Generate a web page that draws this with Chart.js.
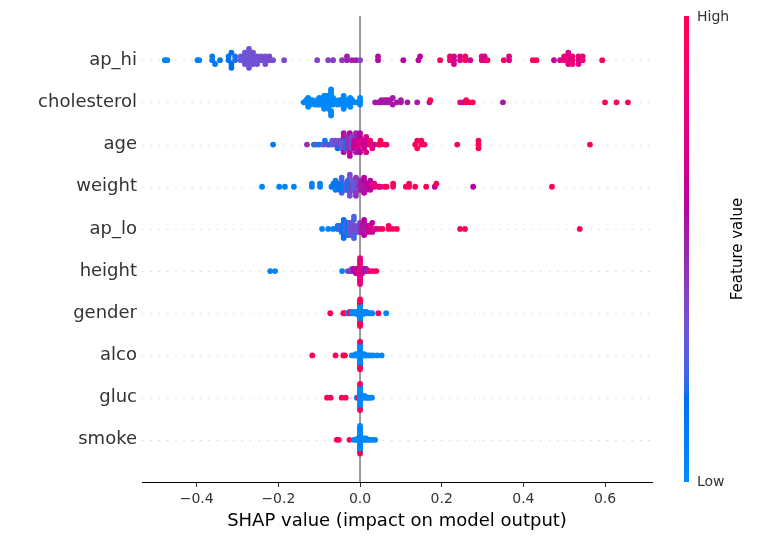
<!DOCTYPE html>
<html>
<head>
<meta charset="utf-8">
<script src="https://cdn.jsdelivr.net/npm/chart.js@4.4.1/dist/chart.umd.min.js"></script>
<style>
  html, body { margin: 0; padding: 0; background: #ffffff; }
  #wrap { position: relative; width: 758px; height: 540px; }
</style>
</head>
<body>
<div id="wrap"><canvas id="c" width="758" height="540"></canvas></div>
<script>
// ---------------- DATA ----------------
// Feature names, top to bottom
const features = ['ap_hi', 'cholesterol', 'age', 'weight', 'ap_lo', 'height', 'gender', 'alco', 'gluc', 'smoke'];
// x-axis tick values
const xTicks = [-0.4, -0.2, 0.0, 0.2, 0.4, 0.6];
// Colorbar tick labels
const colorbarLabels = ['Low', 'High'];
const xTitle = 'SHAP value (impact on model output)';
const colorbarTitle = 'Feature value';

// Each entry: [SHAP value, normalised feature value (0 = low, 1 = high), number of dots]
const apHi = [
  [-0.478, 0.05, 1], [-0.472, 0.05, 1], [-0.398, 0.08, 1], [-0.394, 0.08, 1],
  [-0.362, 0.10, 2], [-0.355, 0.12, 1], [-0.343, 0.12, 1],
  [-0.322, 0.15, 2], [-0.315, 0.18, 3], [-0.306, 0.20, 2],
  [-0.292, 0.30, 2], [-0.282, 0.33, 4], [-0.272, 0.32, 6], [-0.262, 0.35, 4],
  [-0.252, 0.33, 3], [-0.242, 0.36, 2], [-0.232, 0.35, 3], [-0.222, 0.37, 2], [-0.213, 0.36, 1],
  [-0.186, 0.38, 1], [-0.105, 0.40, 1], [-0.078, 0.40, 1], [-0.066, 0.42, 1],
  [-0.044, 0.45, 1], [-0.032, 0.52, 2], [-0.020, 0.50, 1], [-0.010, 0.55, 1], [0.000, 0.40, 1],
  [0.044, 0.58, 2], [0.106, 0.60, 1], [0.143, 0.60, 1], [0.147, 0.62, 1],
  [0.196, 0.95, 1], [0.220, 0.85, 2], [0.230, 0.70, 3], [0.245, 0.75, 2], [0.258, 0.92, 2], [0.270, 0.70, 1],
  [0.298, 0.85, 2], [0.305, 0.70, 2], [0.312, 0.95, 1],
  [0.352, 0.95, 1], [0.365, 0.75, 2], [0.423, 0.95, 1], [0.432, 0.95, 1],
  [0.475, 0.65, 1], [0.490, 0.70, 1], [0.500, 0.88, 2], [0.510, 0.75, 4], [0.520, 0.85, 3],
  [0.535, 0.75, 3], [0.545, 0.82, 2], [0.593, 0.96, 1]
];
const cholesterol = [
  [-0.138, 0.02, 1], [-0.132, 0.02, 2], [-0.127, 0.02, 3], [-0.122, 0.02, 3], [-0.117, 0.02, 2],
  [-0.111, 0.02, 1], [-0.105, 0.02, 3], [-0.100, 0.02, 4], [-0.094, 0.02, 3], [-0.088, 0.02, 4],
  [-0.083, 0.02, 6], [-0.077, 0.02, 7], [-0.071, 0.02, 6], [-0.066, 0.02, 4], [-0.061, 0.02, 2],
  [-0.055, 0.02, 1], [-0.050, 0.02, 2], [-0.045, 0.02, 3], [-0.040, 0.02, 4], [-0.034, 0.02, 3],
  [-0.029, 0.02, 2], [-0.024, 0.02, 3], [-0.019, 0.02, 2], [-0.010, 0.02, 1], [0.000, 0.02, 4],
  [0.037, 0.55, 1], [0.045, 0.55, 1], [0.052, 0.55, 2], [0.060, 0.55, 2], [0.066, 0.55, 2],
  [0.073, 0.55, 2], [0.080, 0.55, 2], [0.090, 0.55, 1], [0.100, 0.55, 2], [0.116, 0.55, 1],
  [0.140, 0.55, 1], [0.170, 0.55, 1], [0.172, 0.97, 1], [0.245, 0.97, 1], [0.252, 0.55, 1],
  [0.260, 0.97, 2], [0.268, 0.97, 1], [0.276, 0.97, 1], [0.350, 0.55, 1],
  [0.600, 0.97, 1], [0.628, 0.97, 1], [0.656, 0.97, 1]
];
const age = [
  [-0.213, 0.10, 1], [-0.130, 0.45, 1], [-0.113, 0.10, 1], [-0.108, 0.30, 1], [-0.100, 0.10, 1],
  [-0.090, 0.35, 1], [-0.086, 0.10, 1], [-0.080, 0.40, 1], [-0.075, 0.20, 1], [-0.068, 0.30, 2],
  [-0.060, 0.35, 2], [-0.055, 0.15, 1], [-0.050, 0.40, 2], [-0.045, 0.30, 3], [-0.040, 0.55, 3],
  [-0.035, 0.20, 3], [-0.030, 0.45, 4], [-0.025, 0.62, 3], [-0.020, 0.35, 4], [-0.015, 0.65, 3],
  [-0.010, 0.50, 3], [-0.005, 0.70, 3], [0.000, 0.60, 3], [0.005, 0.80, 2], [0.010, 0.65, 3],
  [0.015, 0.75, 2], [0.020, 0.70, 2], [0.025, 0.85, 2], [0.030, 0.75, 1], [0.035, 0.65, 1],
  [0.045, 0.90, 1], [0.050, 0.95, 2], [0.060, 0.95, 1], [0.065, 0.85, 1],
  [0.135, 0.95, 1], [0.140, 0.95, 2], [0.150, 0.95, 2], [0.158, 0.92, 1],
  [0.238, 0.95, 1], [0.290, 0.95, 3], [0.563, 0.97, 1]
];
const weight = [
  [-0.240, 0.02, 1], [-0.198, 0.05, 1], [-0.184, 0.05, 1], [-0.162, 0.05, 1], [-0.118, 0.05, 2],
  [-0.098, 0.05, 2], [-0.070, 0.10, 1], [-0.065, 0.15, 2], [-0.060, 0.08, 2], [-0.055, 0.20, 2],
  [-0.050, 0.12, 3], [-0.045, 0.25, 3], [-0.040, 0.10, 3], [-0.035, 0.30, 3], [-0.030, 0.20, 4],
  [-0.025, 0.35, 4], [-0.020, 0.40, 3], [-0.015, 0.30, 4], [-0.010, 0.45, 3], [-0.005, 0.40, 2],
  [0.000, 0.50, 4], [0.005, 0.55, 3], [0.010, 0.60, 3], [0.015, 0.55, 3], [0.020, 0.65, 2],
  [0.025, 0.60, 2], [0.030, 0.70, 1], [0.035, 0.80, 2], [0.045, 0.90, 1], [0.050, 0.75, 1],
  [0.060, 0.85, 1], [0.065, 0.95, 1], [0.081, 0.95, 2], [0.112, 0.95, 1], [0.120, 0.95, 2],
  [0.135, 0.95, 1], [0.162, 0.95, 1], [0.183, 0.60, 1], [0.187, 0.95, 1], [0.277, 0.60, 1],
  [0.470, 0.97, 1]
];
const apLo = [
  [-0.093, 0.05, 1], [-0.078, 0.05, 1], [-0.066, 0.08, 1], [-0.055, 0.10, 2], [-0.050, 0.30, 2],
  [-0.045, 0.10, 3], [-0.040, 0.15, 4], [-0.035, 0.30, 4], [-0.030, 0.10, 5], [-0.025, 0.30, 5],
  [-0.020, 0.35, 4], [-0.015, 0.25, 4], [-0.010, 0.40, 3], [-0.005, 0.30, 3], [0.000, 0.45, 4],
  [0.005, 0.55, 3], [0.010, 0.60, 3], [0.015, 0.55, 2], [0.020, 0.65, 3], [0.025, 0.70, 2],
  [0.030, 0.60, 2], [0.035, 0.80, 1], [0.040, 0.70, 1], [0.048, 0.85, 1], [0.055, 0.95, 1],
  [0.070, 0.95, 2], [0.080, 0.90, 1], [0.090, 0.95, 1], [0.245, 0.95, 1], [0.257, 0.95, 1],
  [0.538, 0.97, 1]
];
const height = [
  [-0.220, 0.05, 1], [-0.208, 0.05, 1], [-0.044, 0.05, 1], [-0.030, 0.35, 1], [-0.025, 0.50, 1],
  [-0.020, 0.40, 2], [-0.015, 0.60, 2], [-0.010, 0.55, 3], [-0.005, 0.70, 3], [0.000, 0.20, 1],
  [0.000, 0.80, 12], [0.005, 0.70, 3], [0.010, 0.60, 2], [0.015, 0.55, 2], [0.020, 0.50, 1],
  [0.025, 0.85, 1], [0.033, 0.90, 1], [0.040, 0.95, 1]
];
const gender = [
  [-0.073, 0.97, 1], [-0.041, 0.97, 1], [-0.037, 0.97, 1], [-0.030, 0.02, 1], [-0.025, 0.97, 2],
  [-0.020, 0.02, 2], [-0.015, 0.02, 2], [-0.010, 0.02, 2], [-0.005, 0.02, 3], [0.000, 0.02, 16],
  [0.000, 0.97, 6], [0.005, 0.02, 3], [0.010, 0.02, 2], [0.015, 0.02, 2], [0.020, 0.02, 1],
  [0.025, 0.02, 1], [0.030, 0.02, 1], [0.045, 0.97, 1], [0.064, 0.02, 1]
];
const alco = [
  [-0.117, 0.97, 1], [-0.060, 0.97, 1], [-0.041, 0.97, 1], [-0.037, 0.97, 1], [-0.020, 0.02, 1],
  [-0.015, 0.02, 1], [-0.010, 0.02, 2], [-0.005, 0.02, 2], [0.000, 0.02, 18], [0.000, 0.97, 3],
  [0.005, 0.02, 2], [0.010, 0.02, 2], [0.015, 0.02, 1], [0.020, 0.02, 1], [0.025, 0.02, 1],
  [0.032, 0.02, 1], [0.042, 0.02, 1], [0.053, 0.02, 1]
];
const gluc = [
  [-0.081, 0.97, 1], [-0.072, 0.97, 1], [-0.045, 0.97, 1], [-0.035, 0.97, 1], [-0.008, 0.02, 1],
  [-0.004, 0.97, 1], [0.000, 0.02, 18], [0.000, 0.97, 2], [0.004, 0.02, 2], [0.008, 0.02, 2],
  [0.012, 0.02, 2], [0.016, 0.02, 1], [0.020, 0.02, 1], [0.024, 0.02, 1], [0.029, 0.02, 1]
];
const smoke = [
  [-0.057, 0.97, 1], [-0.052, 0.97, 1], [-0.026, 0.97, 1], [-0.015, 0.02, 1], [-0.010, 0.02, 1],
  [-0.005, 0.02, 2], [0.000, 0.02, 20], [0.000, 0.97, 1], [0.005, 0.02, 2], [0.010, 0.02, 2],
  [0.015, 0.02, 2], [0.020, 0.02, 1], [0.025, 0.02, 1], [0.030, 0.02, 1], [0.037, 0.02, 1]
];
const featureData = [apHi, cholesterol, age, weight, apLo, height, gender, alco, gluc, smoke];

// ---------------- colour map (SHAP red_blue, LCh interpolation) ----------------
function lch2rgb(L, C, h) {
  const a = C * Math.cos(h), b = C * Math.sin(h);
  const fy = (L + 16) / 116, fx = fy + a / 500, fz = fy - b / 200;
  const finv = t => (t * t * t > 0.008856 ? t * t * t : (t - 16 / 116) / 7.787);
  const X = 0.95047 * finv(fx), Y = finv(fy), Z = 1.08883 * finv(fz);
  let r = 3.2406 * X - 1.5372 * Y - 0.4986 * Z;
  let g = -0.9689 * X + 1.8758 * Y + 0.0415 * Z;
  let bb = 0.0557 * X - 0.2040 * Y + 1.0570 * Z;
  const gam = v => { v = v <= 0.0031308 ? 12.92 * v : 1.055 * Math.pow(v, 1 / 2.4) - 0.055; return Math.min(1, Math.max(0, v)); };
  return [gam(r), gam(g), gam(bb)].map(v => Math.round(v * 255));
}
const cmapSteps = (() => {
  const n = 100, out = [];
  for (let i = 0; i < n; i++) {
    const t = i / (n - 1);
    const half = n / 2;
    const L = i < half ? 54 + (40 - 54) * (i / (half - 1)) : 40 + (54 - 40) * ((i - half) / (half - 1));
    const C = 70 + (90 - 70) * t;
    const H = 4.6588 + ((0.35470565 + 2 * Math.PI) - 4.6588) * t;
    out.push(lch2rgb(L, C, H));
  }
  return out;
})();
function cmap(t) {
  t = Math.min(1, Math.max(0, t));
  const p = t * (cmapSteps.length - 1);
  const i = Math.min(cmapSteps.length - 2, Math.floor(p));
  const f = p - i;
  const c = cmapSteps[i].map((v, k) => Math.round(v + (cmapSteps[i + 1][k] - v) * f));
  return `rgb(${c[0]},${c[1]},${c[2]})`;
}

// ---------------- beeswarm layout (SHAP-style binning) ----------------
function swarmOffsets(xs) {
  const n = xs.length, mn = Math.min(...xs), mx = Math.max(...xs);
  const quant = xs.map(v => Math.round(100 * (v - mn) / (mx - mn + 1e-8)));
  const inds = [...Array(n).keys()].sort((a, b) => quant[a] - quant[b] || a - b);
  const ys = new Array(n).fill(0);
  let layer = 0, last = -1;
  for (const i of inds) {
    if (quant[i] !== last) layer = 0;
    ys[i] = Math.ceil(layer / 2) * ((layer % 2) * 2 - 1);
    layer++;
    last = quant[i];
  }
  const m = Math.max(...ys.map(y => y + 1));
  return ys.map(y => y * 0.9 * (0.4 / m));
}

const points = [], colors = [];
featureData.forEach((rows, fi) => {
  const row = features.length - 1 - fi;
  const xs = [], cs = [];
  rows.forEach(([x, c, n]) => { for (let k = 0; k < n; k++) { xs.push(x); cs.push(c); } });
  const offs = swarmOffsets(xs);
  xs.forEach((x, i) => { points.push({ x: x, y: row + offs[i] }); colors.push(cmap(cs[i])); });
});

const FONT = "'DejaVu Sans', sans-serif";

const decor = {
  id: 'decor',
  beforeDatasetsDraw(chart) {
    const { ctx, chartArea: a, scales } = chart;
    ctx.save();
    // dotted row guides
    ctx.strokeStyle = '#cccccc';
    ctx.lineWidth = 0.7;
    ctx.setLineDash([1.4, 6.9]);
    for (let i = 0; i < features.length; i++) {
      const y = Math.round(scales.y.getPixelForValue(i)) + 0.5;
      ctx.beginPath(); ctx.moveTo(a.left, y); ctx.lineTo(a.right, y); ctx.stroke();
    }
    ctx.setLineDash([]);
    // zero line
    const x0 = scales.x.getPixelForValue(0);
    ctx.strokeStyle = '#999999';
    ctx.lineWidth = 2;
    ctx.beginPath(); ctx.moveTo(x0, a.top - 2); ctx.lineTo(x0, a.bottom); ctx.stroke();
    ctx.restore();
  },
  afterDraw(chart) {
    const { ctx, chartArea: a } = chart;
    ctx.save();
    const bx = 684, bw = 5, top = 16, bot = a.bottom;
    const grad = ctx.createLinearGradient(0, bot, 0, top);
    for (let i = 0; i <= 50; i++) grad.addColorStop(i / 50, cmap(i / 50));
    ctx.fillStyle = grad;
    ctx.fillRect(bx, top, bw, bot - top);
    ctx.fillStyle = '#333333';
    ctx.font = `14px ${FONT}`;
    ctx.textAlign = 'left';
    ctx.textBaseline = 'middle';
    ctx.fillText(colorbarLabels[1], bx + bw + 8, top + 1);
    ctx.fillText(colorbarLabels[0], bx + bw + 8, bot);
    ctx.translate(738, (top + bot) / 2);
    ctx.rotate(-Math.PI / 2);
    ctx.textAlign = 'center';
    ctx.fillStyle = '#000000';
    ctx.font = `15px ${FONT}`;
    ctx.fillText(colorbarTitle, 0, 0);
    ctx.restore();
  }
};

new Chart(document.getElementById('c'), {
  type: 'scatter',
  data: {
    datasets: [{
      data: points,
      backgroundColor: colors,
      pointBackgroundColor: colors,
      pointBorderWidth: 0,
      pointRadius: 2.9,
      pointHoverRadius: 2.9
    }]
  },
  options: {
    responsive: false,
    animation: false,
    events: [],
    layout: { padding: { left: 0, right: 106, top: 18, bottom: 0 } },
    plugins: { legend: { display: false }, tooltip: { enabled: false } },
    scales: {
      x: {
        type: 'linear',
        min: -0.534,
        max: 0.715,
        afterBuildTicks: s => { s.ticks = xTicks.map(v => ({ value: v })); },
        afterFit: s => { s.height = 58; },
        ticks: {
          callback: v => Number(v).toFixed(1).replace('-', '\u2212'),
          font: { family: FONT, size: 14 },
          color: '#333333',
          padding: 4,
          maxRotation: 0
        },
        grid: { drawOnChartArea: false, drawTicks: true, tickLength: 5, tickColor: '#333333', tickWidth: 1 },
        border: { display: true, color: '#000000', width: 1 },
        title: {
          display: true,
          text: xTitle,
          font: { family: FONT, size: 18 },
          color: '#000000',
          padding: { top: 0, bottom: 8 }
        }
      },
      y: {
        type: 'linear',
        min: -1,
        max: features.length,
        afterBuildTicks: s => { s.ticks = features.map((f, i) => ({ value: i })); },
        afterFit: s => { s.width = 142; },
        ticks: {
          callback: v => features[features.length - 1 - v],
          font: { family: FONT, size: 18 },
          color: '#333333',
          padding: 5
        },
        grid: { display: false, drawTicks: false },
        border: { display: false }
      }
    }
  },
  plugins: [decor]
});
</script>
</body>
</html>
